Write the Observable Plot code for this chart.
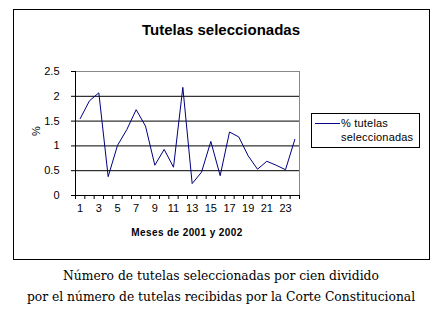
<!DOCTYPE html>
<html>
<head>
<meta charset="utf-8">
<script src="https://cdn.jsdelivr.net/npm/d3@7"></script>
<script src="https://cdn.jsdelivr.net/npm/@observablehq/plot@0.6"></script>
<style>
  html, body { margin: 0; padding: 0; background: #fff; }
  #wrap { position: relative; width: 442px; height: 313px; font-family: "Liberation Sans", Arial, sans-serif; color: #000; overflow: hidden; }
  #frame { position: absolute; left: 13px; top: 9px; width: 415px; height: 249px; border: 1px solid #000; }
  #title { position: absolute; left: 0; width: 442px; top: 21px; text-align: center; font-weight: bold; font-size: 15px; line-height: 18px; }
  #chart { position: absolute; left: 0; top: 0; }
  #ylab { position: absolute; left: 28px; top: 124px; width: 16px; text-align: center; font-size: 11px; line-height: 14px; transform: rotate(-90deg); }
  #xlab { position: absolute; left: 75px; width: 224px; top: 226px; text-align: center; font-weight: bold; font-size: 10px; letter-spacing: 0.4px; line-height: 14px; }
  #legend { position: absolute; left: 311px; top: 113px; width: 107px; height: 33px; border: 1px solid #000; }
  #legline { position: absolute; left: 3px; top: 9px; width: 25px; height: 0; border-top: 1px solid #000080; }
  #legtext { position: absolute; left: 29px; top: 2px; font-size: 11px; line-height: 14px; letter-spacing: 0.2px; }
  #caption { position: absolute; left: 0; width: 442px; top: 266px; text-align: center; font-family: "DejaVu Serif", serif; font-size: 12.3px; line-height: 21px; }
</style>
</head>
<body>
<div id="wrap">
  <div id="frame"></div>
  <div id="title"></div>
  <div id="chart"></div>
  <div id="ylab"></div>
  <div id="xlab"></div>
  <div id="legend"><div id="legline"></div><div id="legtext"></div></div>
  <div id="caption"></div>
</div>
<script>
const chartTitle = "Tutelas seleccionadas";
const yTitle = "%";
const xTitle = "Meses de 2001 y 2002";
const seriesName = ["% tutelas", "seleccionadas"];
const captionLines = [
  "Número de tutelas seleccionadas por cien dividido",
  "por el número de tutelas recibidas por la Corte Constitucional"
];
const months = [1,2,3,4,5,6,7,8,9,10,11,12,13,14,15,16,17,18,19,20,21,22,23,24];
const values = [1.55,1.91,2.07,0.38,1.01,1.33,1.73,1.40,0.61,0.93,0.57,2.18,0.24,0.47,1.09,0.40,1.28,1.18,0.80,0.53,0.69,0.61,0.52,1.13];
const xTickLabels = [1,3,5,7,9,11,13,15,17,19,21,23];
const yTicks = [0,0.5,1,1.5,2,2.5];
const gridValues = [0.5,1,1.5,2];

document.getElementById("title").textContent = chartTitle;
document.getElementById("ylab").textContent = yTitle;
document.getElementById("xlab").textContent = xTitle;
document.getElementById("legtext").innerHTML = seriesName.join("<br>");
document.getElementById("caption").innerHTML = captionLines.join("<br>");

const xBounds = d3.range(0, months.length + 1).map(i => i + 0.5);

const plot = Plot.plot({
  width: 442,
  height: 260,
  marginLeft: 75,
  marginRight: 143,
  marginTop: 71,
  marginBottom: 65,
  style: { background: "transparent", color: "#000", fontFamily: "Liberation Sans, Arial, sans-serif", fontSize: "10.5px", overflow: "visible" },
  x: { domain: [0.5, months.length + 0.5], axis: null },
  y: { domain: [0, 2.5], axis: null },
  marks: [
    Plot.ruleY(gridValues, { stroke: "#000", strokeWidth: 1 }),
    Plot.ruleY([2.5], { stroke: "#888", strokeWidth: 1 }),
    Plot.ruleX([months.length + 0.5], { stroke: "#888", strokeWidth: 1 }),
    Plot.axisY({ ticks: yTicks, tickSize: 4, tickPadding: 12, tickFormat: d => String(d), stroke: "#000", fill: "#000", fontSize: 11 }),
    Plot.axisX({ ticks: xBounds, tickSize: 4, tickFormat: () => "", stroke: "#000" }),
    Plot.axisX({ ticks: xTickLabels, tickSize: 0, tickPadding: 9, tickFormat: d => String(d), fill: "#000", fontSize: 11 }),
    Plot.ruleX([0.5], { stroke: "#000" }),
    Plot.ruleY([0], { stroke: "#000" }),
    Plot.lineY(values, { x: months, y: values, stroke: "#000080", strokeWidth: 1 })
  ]
});
document.getElementById("chart").appendChild(plot);
</script>
</body>
</html>
